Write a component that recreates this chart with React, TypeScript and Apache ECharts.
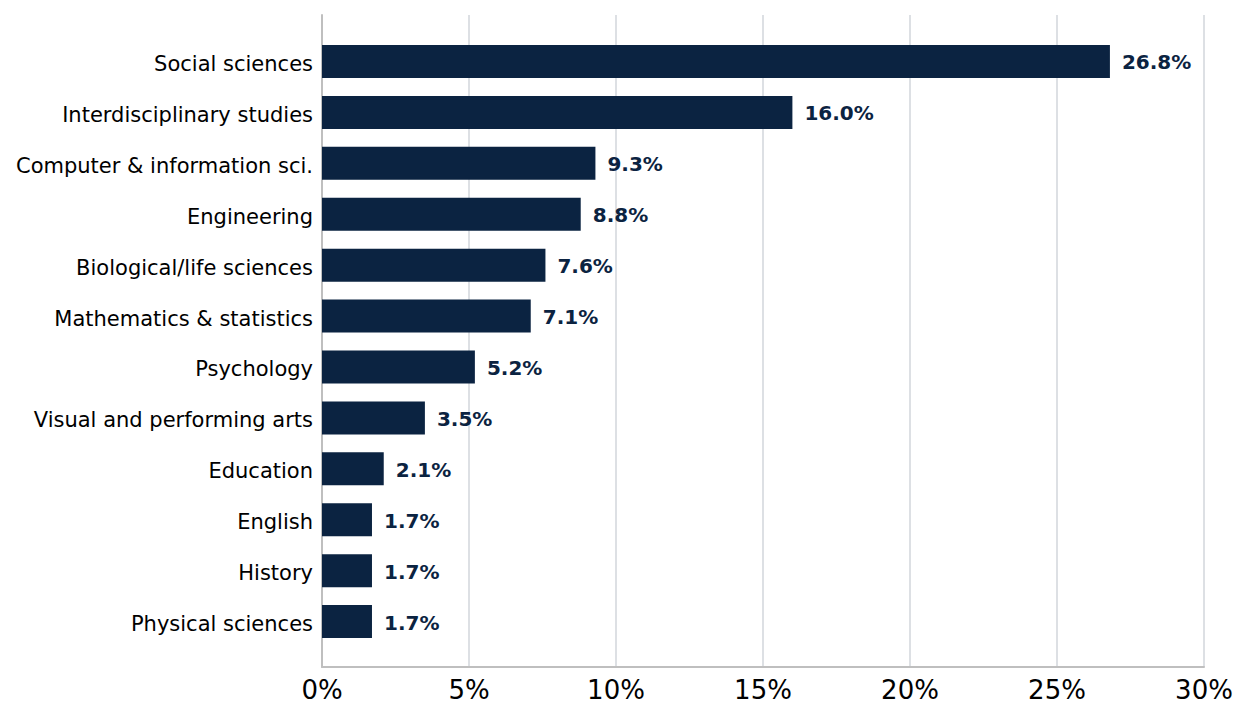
import React, { useEffect, useRef } from "react";
import * as echarts from "echarts";

const categories = [
  "Social sciences",
  "Interdisciplinary studies",
  "Computer & information sci.",
  "Engineering",
  "Biological/life sciences",
  "Mathematics & statistics",
  "Psychology",
  "Visual and performing arts",
  "Education",
  "English",
  "History",
  "Physical sciences",
];
const shares = [26.8, 16.0, 9.3, 8.8, 7.6, 7.1, 5.2, 3.5, 2.1, 1.7, 1.7, 1.7];
const xMin = 0;
const xMax = 30;
const xStep = 5;

const NAVY = "#0b2341";
const FONT = "DejaVu Sans";

export default function App() {
  const ref = useRef<HTMLDivElement>(null);
  useEffect(() => {
    if (!ref.current) return;
    const chart = echarts.init(ref.current, undefined, { renderer: "svg" });
    chart.setOption({
      animation: false,
      backgroundColor: "#ffffff",
      textStyle: { fontFamily: FONT },
      grid: [
        // bars grid (inner padding like the reference)
        { left: 322, right: 46, top: 36, bottom: 72, containLabel: false },
        // frame grid (axes, gridlines, tick labels)
        { left: 322, right: 46, top: 15, bottom: 52, containLabel: false },
      ],
      xAxis: [
        {
          gridIndex: 0,
          type: "value",
          min: xMin,
          max: xMax,
          interval: xStep,
          show: false,
        },
        {
          gridIndex: 1,
          type: "value",
          min: xMin,
          max: xMax,
          interval: xStep,
          axisLine: { show: true, lineStyle: { color: "#bfbfbf", width: 2 } },
          axisTick: { show: false },
          axisLabel: {
            formatter: "{value}%",
            fontSize: 26,
            color: "#000000",
            fontFamily: FONT,
            margin: 10,
          },
          splitLine: { show: true, lineStyle: { color: "#dde0e4", width: 2 } },
          z: 0,
        },
      ],
      yAxis: [
        {
          gridIndex: 0,
          type: "category",
          data: categories,
          inverse: true,
          axisLine: { show: false },
          axisTick: { show: false },
          axisLabel: {
            margin: 9,
            formatter: (v: string) => "{c|" + v + "}",
            rich: {
              c: {
                fontSize: 21,
                color: "#000000",
                fontFamily: FONT,
                padding: [5, 0, 0, 0],
              },
            },
          },
          splitLine: { show: false },
        },
        {
          gridIndex: 1,
          type: "value",
          min: 0,
          max: 1,
          axisLine: { show: true, lineStyle: { color: "#bfbfbf", width: 2 } },
          axisTick: { show: false },
          axisLabel: { show: false },
          splitLine: { show: false },
        },
      ],
      series: [
        {
          type: "bar",
          xAxisIndex: 0,
          yAxisIndex: 0,
          data: shares,
          barWidth: 33,
          z: 5,
          itemStyle: { color: NAVY },
          label: {
            show: true,
            position: "right",
            distance: 12,
            formatter: (p: any) => "{v|" + p.value.toFixed(1) + "%}",
            rich: {
              v: {
                fontSize: 20,
                fontWeight: "bold",
                color: NAVY,
                fontFamily: FONT,
                padding: [2, 0, 0, 0],
              },
            },
          },
        },
      ],
    });
    return () => chart.dispose();
  }, []);
  return (
    <div
      ref={ref}
      style={{ position: "absolute", left: 0, top: 0, width: 1250, height: 719 }}
    />
  );
}
